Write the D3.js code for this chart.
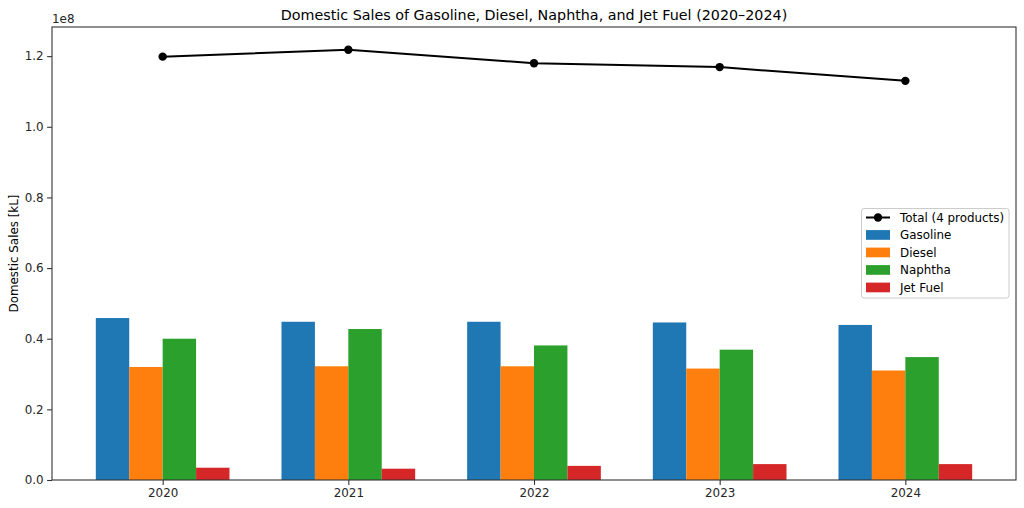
<!DOCTYPE html>
<html>
<head>
<meta charset="utf-8">
<script src="https://cdn.jsdelivr.net/npm/d3@7"></script>
<style>
html,body{margin:0;padding:0;background:#fff;}
svg{display:block;font-family:"DejaVu Sans",sans-serif;}
</style>
</head>
<body>
<svg id="chart" width="1024" height="508"></svg>
<script>
const years = ["2020","2021","2022","2023","2024"];
const seriesNames = ["Gasoline","Diesel","Naphtha","Jet Fuel"];
const seriesColors = ["#1f77b4","#ff7f0e","#2ca02c","#d62728"];
const gasoline = [4.585e7, 4.48e7, 4.48e7, 4.46e7, 4.39e7];
const diesel   = [3.20e7, 3.22e7, 3.22e7, 3.155e7, 3.10e7];
const naphtha  = [4.00e7, 4.275e7, 3.81e7, 3.69e7, 3.48e7];
const jetFuel  = [0.348e7, 0.32e7, 0.40e7, 0.45e7, 0.45e7];
const total    = [1.1986e8, 1.218e8, 1.180e8, 1.169e8, 1.130e8];
const yTicks   = [0, 0.2e8, 0.4e8, 0.6e8, 0.8e8, 1.0e8, 1.2e8];
const titleText = "Domestic Sales of Gasoline, Diesel, Naphtha, and Jet Fuel (2020\u20132024)";
const yLabelText = "Domestic Sales [kL]";
const totalLabel = "Total (4 products)";

const series = [gasoline, diesel, naphtha, jetFuel];
const svg = d3.select("#chart");
const L = 52, R = 1016, T = 27, B = 480;
const barW = 0.18;
const FS = "11.9px";

const x = d3.scaleLinear().domain([-0.596, 4.596]).range([L, R]);
const y = d3.scaleLinear().domain([0, 1.2825e8]).range([B, T]);

// bars
series.forEach((vals, si) => {
  svg.append("g").selectAll("rect").data(vals).enter().append("rect")
    .attr("x", (d, i) => x(i + (si - 1.5) * barW - barW / 2))
    .attr("width", (d, i) => x(i + (si - 1.5) * barW + barW / 2) - x(i + (si - 1.5) * barW - barW / 2))
    .attr("y", d => y(d))
    .attr("height", d => B - y(d))
    .attr("fill", seriesColors[si]);
});

// total line
const line = d3.line().x((d, i) => x(i)).y(d => y(d));
svg.append("path").datum(total).attr("d", line)
  .attr("fill", "none").attr("stroke", "#000").attr("stroke-width", 2);
svg.append("g").selectAll("circle").data(total).enter().append("circle")
  .attr("cx", (d, i) => x(i)).attr("cy", d => y(d)).attr("r", 4.2).attr("fill", "#000");

// axes
const xAxis = d3.axisBottom(x).tickValues(d3.range(years.length)).tickFormat(i => years[i])
  .tickSizeInner(4.9).tickSizeOuter(0).tickPadding(3.5);
const gx = svg.append("g").attr("transform", `translate(0,${B})`).call(xAxis);
const yAxis = d3.axisLeft(y).tickValues(yTicks).tickFormat(d => (d / 1e8).toFixed(1))
  .tickSizeInner(4.9).tickSizeOuter(0).tickPadding(3.5);
const gy = svg.append("g").attr("transform", `translate(${L},0)`).call(yAxis);
[gx, gy].forEach(g => {
  g.select(".domain").remove();
  g.selectAll("text").attr("font-size", FS).attr("fill", "#262626")
    .attr("font-family", "DejaVu Sans");
  g.selectAll("line").attr("stroke", "#333").attr("stroke-width", 1.1);
});

// frame
svg.append("rect").attr("x", L).attr("y", T).attr("width", R - L).attr("height", B - T)
  .attr("fill", "none").attr("stroke", "#333").attr("stroke-width", 1.1);

// offset text
svg.append("text").attr("x", L).attr("y", 23).attr("font-size", FS).attr("fill", "#262626").text("1e8");

// title
svg.append("text").attr("x", (L + R) / 2).attr("y", 20).attr("text-anchor", "middle")
  .attr("font-size", "14.3px").attr("fill", "#000").text(titleText);

// y label
svg.append("text").attr("transform", `translate(18,${(T + B) / 2}) rotate(-90)`)
  .attr("text-anchor", "middle").attr("font-size", FS).attr("fill", "#000").text(yLabelText);

// legend
const lg = svg.append("g");
lg.append("rect").attr("x", 861.5).attr("y", 208.5).attr("width", 147.5).attr("height", 89.5)
  .attr("rx", 2.5).attr("fill", "#fff").attr("fill-opacity", 0.8).attr("stroke", "#ccc").attr("stroke-width", 1);
const rowY = [217.5, 235, 252.5, 270, 287.5];
lg.append("line").attr("x1", 866).attr("x2", 890).attr("y1", rowY[0]).attr("y2", rowY[0])
  .attr("stroke", "#000").attr("stroke-width", 2);
lg.append("circle").attr("cx", 878).attr("cy", rowY[0]).attr("r", 4.2).attr("fill", "#000");
lg.append("text").attr("x", 900).attr("y", rowY[0]).attr("dy", "0.35em").attr("font-size", FS).attr("fill", "#000").text(totalLabel);
seriesNames.forEach((n, i) => {
  lg.append("rect").attr("x", 866).attr("y", rowY[i + 1] - 4.9).attr("width", 24).attr("height", 9.7).attr("fill", seriesColors[i]);
  lg.append("text").attr("x", 900).attr("y", rowY[i + 1]).attr("dy", "0.35em").attr("font-size", FS).attr("fill", "#000").text(n);
});
</script>
</body>
</html>
